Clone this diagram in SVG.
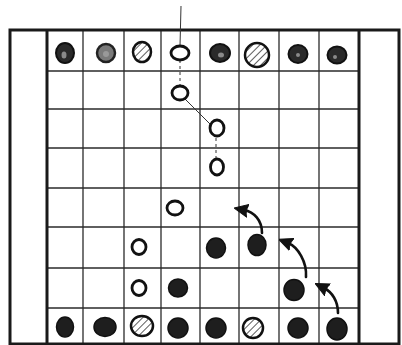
<svg xmlns="http://www.w3.org/2000/svg" width="402" height="345" viewBox="0 0 402 345">
<style>
.frame{fill:none;stroke:#1a1a1a;stroke-width:3}
.grid{fill:none;stroke:#2a2a2a;stroke-width:1.3}
.hollow{fill:#fff;stroke:#111;stroke-width:2.8}
.solid{fill:#1e1e1e;stroke:#111;stroke-width:1.5}
.dark{fill:#2a2a2a;stroke:#111;stroke-width:2}
.hi{fill:#8a8a8a}
.grey{fill:#7a7a7a;stroke:#222;stroke-width:2.5}
.hatch{fill:url(#hatch);stroke:#111;stroke-width:2.5}
.conn{fill:none;stroke:#333;stroke-width:1}
.arrow{fill:none;stroke:#111;stroke-width:2.6;stroke-linecap:round}
</style>
<defs>
<pattern id="hatch" patternUnits="userSpaceOnUse" width="5" height="5" patternTransform="rotate(45)">
<rect width="5" height="5" fill="#fff"/>
<line x1="0" y1="0" x2="0" y2="5" stroke="#333" stroke-width="1.6"/>
</pattern>
<marker id="head" viewBox="0 0 14 14" refX="4" refY="7" markerWidth="14" markerHeight="14" markerUnits="userSpaceOnUse" orient="auto">
<path d="M14,7 L0,0.5 Q3,7 0,13.5 Z" fill="#111" stroke="#111" stroke-width="1" stroke-linejoin="round"/>
</marker>
</defs>
<rect width="402" height="345" fill="#fff"/>
<g id="board">
<line class="grid" x1="47" y1="71" x2="359" y2="71"/>
<line class="grid" x1="47" y1="109" x2="359" y2="109"/>
<line class="grid" x1="47" y1="148" x2="359" y2="148"/>
<line class="grid" x1="47" y1="188" x2="359" y2="188"/>
<line class="grid" x1="47" y1="227" x2="359" y2="227"/>
<line class="grid" x1="47" y1="268" x2="359" y2="268"/>
<line class="grid" x1="47" y1="308" x2="359" y2="308"/>
<line class="grid" x1="83" y1="30" x2="83" y2="344"/>
<line class="grid" x1="124" y1="30" x2="124" y2="344"/>
<line class="grid" x1="161" y1="30" x2="161" y2="344"/>
<line class="grid" x1="200" y1="30" x2="200" y2="344"/>
<line class="grid" x1="239" y1="30" x2="239" y2="344"/>
<line class="grid" x1="279" y1="30" x2="279" y2="344"/>
<line class="grid" x1="319" y1="30" x2="319" y2="344"/>
<rect class="frame" x="10" y="30" width="389" height="314"/>
<line class="frame" x1="47" y1="30" x2="47" y2="344"/>
<line class="frame" x1="359" y1="30" x2="359" y2="344"/>
</g>
<g id="connectors">
<line class="conn" x1="181" y1="6" x2="180" y2="46"/>
<line class="conn" x1="180" y1="60" x2="180" y2="86" stroke-dasharray="3 3"/>
<line class="conn" x1="184" y1="98" x2="210" y2="124"/>
<line class="conn" x1="216" y1="138" x2="216" y2="158" stroke-dasharray="3 3"/>
<path class="arrow" d="M262,233 C262,220 254,212 244,210" marker-end="url(#head)"/>
<path class="arrow" d="M306,277 C307,262 298,247 288,243" marker-end="url(#head)"/>
<path class="arrow" d="M338,313 C338,301 332,292 324,288" marker-end="url(#head)"/>
</g>
<g id="r0c0"><ellipse class="dark" cx="65" cy="53" rx="9" ry="10"/><ellipse class="hi" cx="64" cy="55" rx="2.5" ry="3.5"/></g>
<g id="r0c1"><circle class="grey" cx="106" cy="53" r="9"/><circle cx="106" cy="54" r="3" fill="#999"/></g>
<g id="r0c2"><ellipse class="hatch" cx="142" cy="52" rx="9" ry="10"/></g>
<g id="h1"><ellipse class="hollow" cx="180" cy="53" rx="9" ry="7"/></g>
<g id="r0c4"><ellipse class="dark" cx="220" cy="53" rx="10" ry="9"/><ellipse class="hi" cx="221" cy="55" rx="3" ry="2.5"/></g>
<g id="r0c5"><ellipse class="hatch" cx="257" cy="55" rx="12" ry="12"/></g>
<g id="r0c6"><ellipse class="dark" cx="298" cy="54" rx="9.5" ry="9"/><ellipse class="hi" cx="298" cy="55" rx="2" ry="2"/></g>
<g id="r0c7"><ellipse class="dark" cx="337" cy="55" rx="9.5" ry="8.5"/><ellipse class="hi" cx="335" cy="57" rx="2" ry="2"/></g>
<g id="h2"><ellipse class="hollow" cx="180" cy="93" rx="8" ry="7"/></g>
<g id="h3"><ellipse class="hollow" cx="217" cy="128" rx="7" ry="8"/></g>
<g id="h4"><ellipse class="hollow" cx="217" cy="167" rx="6.5" ry="8"/></g>
<g id="h5"><ellipse class="hollow" cx="175" cy="208" rx="8" ry="7"/></g>
<g id="h6"><ellipse class="hollow" cx="139" cy="247" rx="7" ry="7.5"/></g>
<g id="h7"><ellipse class="hollow" cx="139" cy="288" rx="7" ry="7.5"/></g>
<g id="f1"><ellipse class="solid" cx="216" cy="248" rx="9.5" ry="10"/></g>
<g id="f2"><ellipse class="solid" cx="257" cy="245" rx="9" ry="10.5"/></g>
<g id="f3"><ellipse class="solid" cx="178" cy="288" rx="9.5" ry="9"/></g>
<g id="f4"><ellipse class="solid" cx="294" cy="290" rx="10" ry="10.5"/></g>
<g id="b0"><ellipse class="solid" cx="65" cy="327" rx="8.5" ry="10"/></g>
<g id="b1"><ellipse class="solid" cx="105" cy="327" rx="11" ry="9.5"/></g>
<g id="b2"><ellipse class="hatch" cx="142" cy="326" rx="11" ry="10"/></g>
<g id="b3"><ellipse class="solid" cx="178" cy="328" rx="10" ry="10"/></g>
<g id="b4"><ellipse class="solid" cx="216" cy="328" rx="10" ry="10"/></g>
<g id="b5"><ellipse class="hatch" cx="253" cy="328" rx="10" ry="10"/></g>
<g id="b6"><ellipse class="solid" cx="298" cy="328" rx="10" ry="10"/></g>
<g id="b7"><ellipse class="solid" cx="337" cy="329" rx="10" ry="11"/></g>
</svg>
